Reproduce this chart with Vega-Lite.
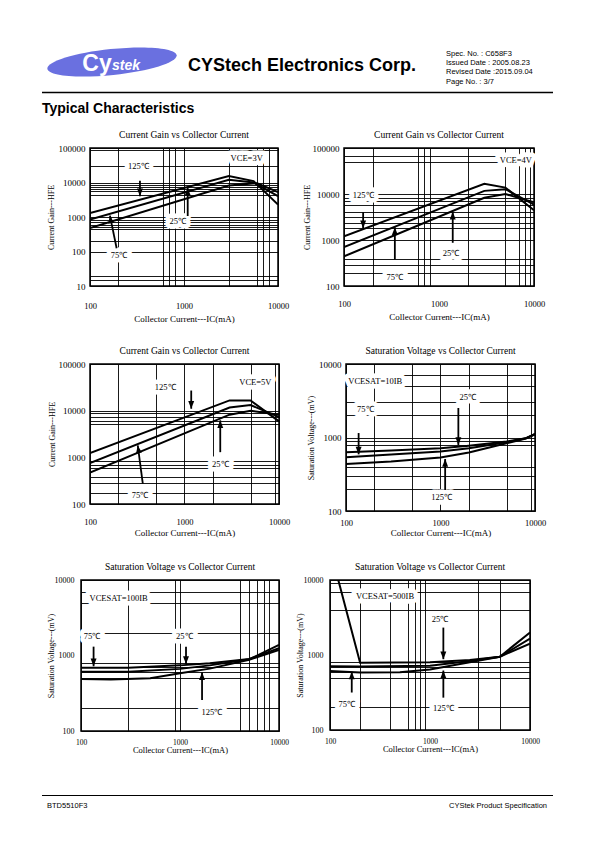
{
"$schema":"https://vega.github.io/schema/vega-lite/v6.json",
"padding":0,
"background":"white",
"spacing":0,
"config":{
 "view":{"stroke":null},
 "font":"Liberation Serif",
 "axis":{"ticks":false,"domain":false,"grid":true,"gridColor":"black","gridWidth":0.9,"gridOpacity":1,"labelColor":"black","titleColor":"black","labelFont":"Liberation Serif","titleFont":"Liberation Serif","titleFontWeight":"normal","labelOverlap":false,"labelFlush":false,"labelBound":false},
 "title":{"font":"Liberation Serif","fontSize":9.5,"fontWeight":"normal","color":"black","offset":5},
 "text":{"font":"Liberation Serif"}
},
"datasets":{
 "c1":[{"c":"125℃","i":100,"v":1300},{"c":"125℃","i":3000,"v":15500},{"c":"125℃","i":5500,"v":11000},{"c":"125℃","i":10000,"v":2300},
  {"c":"75℃","i":100,"v":850},{"c":"75℃","i":3000,"v":12000},{"c":"75℃","i":5500,"v":10000},{"c":"75℃","i":10000,"v":4000},
  {"c":"25℃","i":100,"v":480},{"c":"25℃","i":3000,"v":8200},{"c":"25℃","i":6000,"v":9500},{"c":"25℃","i":10000,"v":5300}],
 "c2":[{"c":"125℃","i":100,"v":1200},{"c":"125℃","i":3000,"v":16700},{"c":"125℃","i":5000,"v":13800},{"c":"125℃","i":10000,"v":4450},
  {"c":"75℃","i":100,"v":700},{"c":"75℃","i":3000,"v":11700},{"c":"75℃","i":5000,"v":12700},{"c":"75℃","i":10000,"v":5900},
  {"c":"25℃","i":100,"v":440},{"c":"25℃","i":3000,"v":8300},{"c":"25℃","i":5000,"v":10000},{"c":"25℃","i":10000,"v":6600}],
 "c3":[{"c":"125℃","i":100,"v":1230},{"c":"125℃","i":3000,"v":16600},{"c":"125℃","i":5000,"v":16600},{"c":"125℃","i":10000,"v":5900},
  {"c":"75℃","i":100,"v":750},{"c":"75℃","i":3000,"v":11700},{"c":"75℃","i":5000,"v":13200},{"c":"75℃","i":10000,"v":7300},
  {"c":"25℃","i":100,"v":470},{"c":"25℃","i":3000,"v":8200},{"c":"25℃","i":5000,"v":10000},{"c":"25℃","i":10000,"v":8200}],
 "c4":[{"c":"25℃","i":100,"v":630},{"c":"25℃","i":300,"v":665},{"c":"25℃","i":1000,"v":715},{"c":"25℃","i":2000,"v":775},{"c":"25℃","i":5000,"v":880},{"c":"25℃","i":8000,"v":980},{"c":"25℃","i":10000,"v":1110},
  {"c":"75℃","i":100,"v":540},{"c":"75℃","i":300,"v":585},{"c":"75℃","i":1000,"v":645},{"c":"75℃","i":2000,"v":715},{"c":"75℃","i":5000,"v":860},{"c":"75℃","i":8000,"v":975},{"c":"75℃","i":10000,"v":1100},
  {"c":"125℃","i":100,"v":435},{"c":"125℃","i":300,"v":470},{"c":"125℃","i":1000,"v":535},{"c":"125℃","i":2000,"v":624},{"c":"125℃","i":5000,"v":835},{"c":"125℃","i":8000,"v":970},{"c":"125℃","i":10000,"v":1120}],
 "c5":[{"c":"25℃","i":100,"v":690},{"c":"25℃","i":300,"v":690},{"c":"25℃","i":1000,"v":740},{"c":"25℃","i":2000,"v":790},{"c":"25℃","i":5000,"v":900},{"c":"25℃","i":10000,"v":1250},
  {"c":"75℃","i":100,"v":610},{"c":"75℃","i":300,"v":610},{"c":"75℃","i":1000,"v":665},{"c":"75℃","i":2000,"v":740},{"c":"75℃","i":5000,"v":890},{"c":"75℃","i":10000,"v":1380},
  {"c":"125℃","i":100,"v":490},{"c":"125℃","i":200,"v":480},{"c":"125℃","i":500,"v":500},{"c":"125℃","i":1000,"v":580},{"c":"125℃","i":2000,"v":670},{"c":"125℃","i":5000,"v":880},{"c":"125℃","i":10000,"v":1180}],
 "c6":[{"c":"25℃","i":121,"v":10000},{"c":"25℃","i":200,"v":790},{"c":"25℃","i":1000,"v":800},{"c":"25℃","i":2500,"v":860},{"c":"25℃","i":5000,"v":950},{"c":"25℃","i":10000,"v":2000},
  {"c":"75℃","i":100,"v":710},{"c":"75℃","i":200,"v":700},{"c":"75℃","i":1000,"v":720},{"c":"75℃","i":2500,"v":830},{"c":"75℃","i":5000,"v":950},{"c":"75℃","i":10000,"v":1650},
  {"c":"125℃","i":100,"v":610},{"c":"125℃","i":200,"v":585},{"c":"125℃","i":500,"v":590},{"c":"125℃","i":1000,"v":640},{"c":"125℃","i":2500,"v":800},{"c":"125℃","i":5000,"v":950},{"c":"125℃","i":10000,"v":1420}],
 "a1":[{"i":340,"v":11200,"i2":340,"v2":4000,"dir":"down"},{"i":1095,"v":1070,"i2":1095,"v2":7000,"dir":"up"},{"i":192,"v":124,"i2":163,"v2":1100,"dir":"upleft"}],
 "t1":[{"i":327,"v":31000,"label":"125℃"},{"i":857,"v":775,"label":"25℃"},{"i":203,"v":80,"label":"75℃"},{"i":4645,"v":53000,"label":"VCE=3V"}],
 "a2":[{"i":159,"v":4030,"i2":159,"v2":1800,"dir":"down"},{"i":343,"v":380,"i2":343,"v2":1900,"dir":"up"},{"i":1395,"v":870,"i2":1395,"v2":4100,"dir":"up"}],
 "t2":[{"i":159,"v":9700,"label":"125℃"},{"i":343,"v":160,"label":"75℃"},{"i":1340,"v":510,"label":"25℃"},{"i":6450,"v":55700,"label":"VCE=4V"}],
 "a3":[{"i":1178,"v":27000,"i2":1178,"v2":11000,"dir":"down"},{"i":2390,"v":1290,"i2":2390,"v2":6200,"dir":"up"},{"i":362,"v":273,"i2":320,"v2":1800,"dir":"upleft"}],
 "t3":[{"i":624,"v":32700,"label":"125℃"},{"i":5620,"v":40500,"label":"VCE=5V"},{"i":2390,"v":705,"label":"25℃"},{"i":339,"v":153,"label":"75℃"}],
 "a4":[{"i":136,"v":1150,"i2":136,"v2":590,"dir":"down"},{"i":1545,"v":2520,"i2":1545,"v2":790,"dir":"down"},{"i":1120,"v":193,"i2":1120,"v2":510,"dir":"up"}],
 "t4":[{"i":204,"v":5920,"label":"VCESAT=10IB"},{"i":160,"v":2460,"label":"75℃"},{"i":1940,"v":3510,"label":"25℃"},{"i":1030,"v":157,"label":"125℃"}],
 "a5":[{"i":134,"v":1310,"i2":134,"v2":720,"dir":"down"},{"i":1150,"v":1310,"i2":1150,"v2":770,"dir":"down"},{"i":1670,"v":257,"i2":1670,"v2":600,"dir":"up"}],
 "t5":[{"i":240,"v":5730,"label":"VCESAT=100IB"},{"i":129,"v":1810,"label":"75℃"},{"i":1105,"v":1810,"label":"25℃"},{"i":2100,"v":180,"label":"125℃"}],
 "a6":[{"i":1360,"v":2320,"i2":1360,"v2":880,"dir":"down"},{"i":165,"v":316,"i2":165,"v2":600,"dir":"up"},{"i":1360,"v":270,"i2":1360,"v2":620,"dir":"up"}],
 "t6":[{"i":355,"v":6120,"label":"VCESAT=500IB"},{"i":1260,"v":2990,"label":"25℃"},{"i":147,"v":220,"label":"75℃"},{"i":1360,"v":195,"label":"125℃"}]
},
"vconcat":[
 {"width":595,"height":128,"data":{"values":[{}]},
  "layer":[
   {"mark":{"type":"point","shape":"M-1,0A1,0.2 0 1,1 1,0A1,0.2 0 1,1 -1,0Z","size":16900,"filled":true,"color":"#6a70e0","opacity":1,"angle":-6},
    "encoding":{"x":{"datum":112,"type":"quantitative","scale":{"domain":[0,595],"nice":false,"zero":false},"axis":null},"y":{"datum":62,"type":"quantitative","scale":{"domain":[0,128],"reverse":true,"nice":false,"zero":false},"axis":null}}},
   {"mark":{"type":"text","text":"Cy","font":"Liberation Sans","fontWeight":"bold","fontSize":23,"color":"white","align":"center","baseline":"alphabetic"},
    "encoding":{"x":{"datum":97,"type":"quantitative","axis":null},"y":{"datum":71,"type":"quantitative","axis":null}}},
   {"mark":{"type":"text","text":"stek","font":"Liberation Sans","fontWeight":"bold","fontStyle":"italic","fontSize":14,"color":"white","align":"center","baseline":"alphabetic"},
    "encoding":{"x":{"datum":126,"type":"quantitative","axis":null},"y":{"datum":70,"type":"quantitative","axis":null}}},
   {"mark":{"type":"text","text":"CYStech Electronics Corp.","font":"Liberation Sans","fontWeight":"bold","fontSize":18,"color":"black","align":"left","baseline":"alphabetic"},
    "encoding":{"x":{"datum":188,"type":"quantitative","axis":null},"y":{"datum":70.5,"type":"quantitative","axis":null}}},
   {"mark":{"type":"text","text":["Spec. No. : C658F3","Issued Date : 2005.08.23","Revised Date :2015.09.04","Page No. : 3/7"],"font":"Liberation Sans","fontSize":7.5,"lineHeight":9.2,"color":"black","align":"left","baseline":"top"},
    "encoding":{"x":{"datum":446,"type":"quantitative","axis":null},"y":{"datum":50,"type":"quantitative","axis":null}}},
   {"mark":{"type":"rule","color":"black","strokeWidth":1.3},
    "encoding":{"x":{"datum":42,"type":"quantitative","axis":null},"x2":{"datum":553},"y":{"datum":92.5,"type":"quantitative","axis":null}}},
   {"mark":{"type":"text","text":"Typical Characteristics","font":"Liberation Sans","fontWeight":"bold","fontSize":14,"color":"black","align":"left","baseline":"middle"},
    "encoding":{"x":{"datum":42,"type":"quantitative","axis":null},"y":{"datum":108.5,"type":"quantitative","axis":null}}}
  ]},
 {"hconcat":[
   {"width":24,"height":138,"data":{"values":[]},"mark":"point","encoding":{}},
   {"width":188,"height":138,"view":{"stroke":"black","strokeWidth":1.5},
    "title":{"text":"Current Gain vs Collector Current"},
    "layer":[
     {"data":{"name":"t1"},"mark":{"type":"text","color":"white","stroke":"white","strokeWidth":9,"strokeJoin":"round","fontSize":8.5},
      "encoding":{"x":{"field":"i","type":"quantitative","scale":{"type":"log","domain":[100,10000],"nice":false},
        "axis":{"values":[100,200,600,700,800,1000,3000,6000,7000,8000,10000],"labelExpr":"indexof([100,1000,10000], datum.value) >= 0 ? format(datum.value, 'd') : ''","labelFontSize":8.5,"labelPadding":15,"title":"Collector Current---IC(mA)","titleFontSize":9,"titlePadding":5}},
       "y":{"field":"v","type":"quantitative","scale":{"type":"log","domain":[10,100000],"nice":false},
        "axis":{"values":[10,15,20,100,200,450,500,600,700,800,1000,4300,5700,6500,7500,8500,10000,30000,85000,100000],"labelExpr":"indexof([10,100,1000,10000,100000], datum.value) >= 0 ? format(datum.value, 'd') : ''","labelFontSize":9,"labelPadding":5,"title":"Current Gain---HFE","titleFontSize":8,"titlePadding":3}},
       "text":{"field":"label"}}},
     {"data":{"name":"c1"},"mark":{"type":"line","color":"black","strokeWidth":2,"clip":true},
      "encoding":{"x":{"field":"i","type":"quantitative"},"y":{"field":"v","type":"quantitative"},"detail":{"field":"c"}}},
     {"data":{"name":"a1"},"mark":{"type":"rule","color":"black","strokeWidth":1.8},
      "encoding":{"x":{"field":"i","type":"quantitative"},"y":{"field":"v","type":"quantitative"},"x2":{"field":"i2"},"y2":{"field":"v2"}}},
     {"data":{"name":"a1"},"mark":{"type":"point","filled":true,"color":"black","size":49,"opacity":1,"strokeWidth":0},
      "encoding":{"x":{"field":"i2","type":"quantitative"},"y":{"field":"v2","type":"quantitative"},"shape":{"field":"dir","type":"nominal","scale":{"domain":["down","up","upleft"],"range":["M0,0L-0.85,-2.2L0.85,-2.2Z","M0,0L-0.85,2.2L0.85,2.2Z","M0,0L-0.495,2.306L1.184,2.04Z"]},"legend":null}}},
     {"data":{"name":"t1"},"mark":{"type":"text","color":"black","fontSize":8.5},
      "encoding":{"x":{"field":"i","type":"quantitative"},"y":{"field":"v","type":"quantitative"},"text":{"field":"label"}}}
    ]},
   {"width":190,"height":138,"view":{"stroke":"black","strokeWidth":1.5},
    "title":{"text":"Current Gain vs Collector Current"},
    "layer":[
     {"data":{"name":"t2"},"mark":{"type":"text","color":"white","stroke":"white","strokeWidth":9,"strokeJoin":"round","fontSize":8.5},
      "encoding":{"x":{"field":"i","type":"quantitative","scale":{"type":"log","domain":[100,10000],"nice":false},
        "axis":{"values":[100,200,600,700,800,1000,2000,5000,7000,8000,9000,10000],"labelExpr":"indexof([100,1000,10000], datum.value) >= 0 ? format(datum.value, 'd') : ''","gridOpacity":{"condition":{"test":"datum.value == 1000","value":0},"value":1},"labelFontSize":8.5,"labelPadding":13,"title":"Collector Current---IC(mA)","titleFontSize":9,"titlePadding":5}},
       "y":{"field":"v","type":"quantitative","scale":{"type":"log","domain":[100,100000],"nice":false},
        "axis":{"values":[100,195,280,390,1000,1800,2300,3100,4000,5700,7200,8200,10000,50000,67000,100000],"labelExpr":"indexof([100,1000,10000,100000], datum.value) >= 0 ? format(datum.value, 'd') : ''","labelFontSize":9,"labelPadding":5,"title":"Current Gain---HFE","titleFontSize":8,"titlePadding":1}},
       "text":{"field":"label"}}},
     {"data":{"name":"c2"},"mark":{"type":"line","color":"black","strokeWidth":2,"clip":true},
      "encoding":{"x":{"field":"i","type":"quantitative"},"y":{"field":"v","type":"quantitative"},"detail":{"field":"c"}}},
     {"data":{"name":"a2"},"mark":{"type":"rule","color":"black","strokeWidth":1.8},
      "encoding":{"x":{"field":"i","type":"quantitative"},"y":{"field":"v","type":"quantitative"},"x2":{"field":"i2"},"y2":{"field":"v2"}}},
     {"data":{"name":"a2"},"mark":{"type":"point","filled":true,"color":"black","size":49,"opacity":1,"strokeWidth":0},
      "encoding":{"x":{"field":"i2","type":"quantitative"},"y":{"field":"v2","type":"quantitative"},"shape":{"field":"dir","type":"nominal","scale":{"domain":["down","up","upleft"],"range":["M0,0L-0.85,-2.2L0.85,-2.2Z","M0,0L-0.85,2.2L0.85,2.2Z","M0,0L-0.495,2.306L1.184,2.04Z"]},"legend":null}}},
     {"data":{"name":"t2"},"mark":{"type":"text","color":"black","fontSize":8.5},
      "encoding":{"x":{"field":"i","type":"quantitative"},"y":{"field":"v","type":"quantitative"},"text":{"field":"label"}}}
    ]}
  ],"spacing":66,"bounds":"flush"},
 {"width":10,"height":19,"data":{"values":[]},"mark":"point","encoding":{}},
 {"hconcat":[
   {"width":23,"height":147,"data":{"values":[]},"mark":"point","encoding":{}},
   {"width":189,"height":140,"view":{"stroke":"black","strokeWidth":1.5},
    "title":{"text":"Current Gain vs Collector Current"},
    "layer":[
     {"data":{"name":"t3"},"mark":{"type":"text","color":"white","stroke":"white","strokeWidth":9,"strokeJoin":"round","fontSize":8.5},
      "encoding":{"x":{"field":"i","type":"quantitative","scale":{"type":"log","domain":[100,10000],"nice":false},
        "axis":{"values":[100,200,500,1000,2000,5000,9000,10000],"labelExpr":"indexof([100,1000,10000], datum.value) >= 0 ? format(datum.value, 'd') : ''","labelFontSize":8.5,"labelPadding":13,"title":"Collector Current---IC(mA)","titleFontSize":9,"titlePadding":3}},
       "y":{"field":"v","type":"quantitative","scale":{"type":"log","domain":[100,100000],"nice":false},
        "axis":{"values":[100,170,280,380,590,700,830,1000,5100,6000,7300,8800,10000,100000],"labelExpr":"indexof([100,1000,10000,100000], datum.value) >= 0 ? format(datum.value, 'd') : ''","gridOpacity":{"condition":{"test":"datum.value == 1000","value":0},"value":1},"labelFontSize":9,"labelPadding":5,"title":"Current Gain---HFE","titleFontSize":8,"titlePadding":2}},
       "text":{"field":"label"}}},
     {"data":{"name":"c3"},"mark":{"type":"line","color":"black","strokeWidth":2,"clip":true},
      "encoding":{"x":{"field":"i","type":"quantitative"},"y":{"field":"v","type":"quantitative"},"detail":{"field":"c"}}},
     {"data":{"name":"a3"},"mark":{"type":"rule","color":"black","strokeWidth":1.8},
      "encoding":{"x":{"field":"i","type":"quantitative"},"y":{"field":"v","type":"quantitative"},"x2":{"field":"i2"},"y2":{"field":"v2"}}},
     {"data":{"name":"a3"},"mark":{"type":"point","filled":true,"color":"black","size":49,"opacity":1,"strokeWidth":0},
      "encoding":{"x":{"field":"i2","type":"quantitative"},"y":{"field":"v2","type":"quantitative"},"shape":{"field":"dir","type":"nominal","scale":{"domain":["down","up","upleft"],"range":["M0,0L-0.85,-2.2L0.85,-2.2Z","M0,0L-0.85,2.2L0.85,2.2Z","M0,0L-0.495,2.306L1.184,2.04Z"]},"legend":null}}},
     {"data":{"name":"t3"},"mark":{"type":"text","color":"black","fontSize":8.5},
      "encoding":{"x":{"field":"i","type":"quantitative"},"y":{"field":"v","type":"quantitative"},"text":{"field":"label"}}}
    ]},
   {"width":189,"height":147,"view":{"stroke":"black","strokeWidth":1.5},
    "title":{"text":"Saturation Voltage vs Collector Current"},
    "layer":[
     {"data":{"name":"t4"},"mark":{"type":"text","color":"white","stroke":"white","strokeWidth":9,"strokeJoin":"round","fontSize":8.5},
      "encoding":{"x":{"field":"i","type":"quantitative","scale":{"type":"log","domain":[100,10000],"nice":false},
        "axis":{"values":[100,200,500,1000,2000,5000,9000,10000],"labelExpr":"indexof([100,1000,10000], datum.value) >= 0 ? format(datum.value, 'd') : ''","labelFontSize":8.5,"labelPadding":7,"title":"Collector Current---IC(mA)","titleFontSize":9,"titlePadding":2}},
       "y":{"field":"v","type":"quantitative","scale":{"type":"log","domain":[100,10000],"nice":false},
        "axis":{"values":[100,200,300,400,800,900,1000,2000,3000,5000,7000,10000],"labelExpr":"indexof([100,1000,10000], datum.value) >= 0 ? format(datum.value, 'd') : ''","labelFontSize":9,"labelPadding":5,"title":"Saturation Voltage---(mV)","titleFontSize":8,"titlePadding":3}},
       "text":{"field":"label"}}},
     {"data":{"name":"c4"},"mark":{"type":"line","color":"black","strokeWidth":2,"clip":true},
      "encoding":{"x":{"field":"i","type":"quantitative"},"y":{"field":"v","type":"quantitative"},"detail":{"field":"c"}}},
     {"data":{"name":"a4"},"mark":{"type":"rule","color":"black","strokeWidth":1.8},
      "encoding":{"x":{"field":"i","type":"quantitative"},"y":{"field":"v","type":"quantitative"},"x2":{"field":"i2"},"y2":{"field":"v2"}}},
     {"data":{"name":"a4"},"mark":{"type":"point","filled":true,"color":"black","size":49,"opacity":1,"strokeWidth":0},
      "encoding":{"x":{"field":"i2","type":"quantitative"},"y":{"field":"v2","type":"quantitative"},"shape":{"field":"dir","type":"nominal","scale":{"domain":["down","up","upleft"],"range":["M0,0L-0.85,-2.2L0.85,-2.2Z","M0,0L-0.85,2.2L0.85,2.2Z","M0,0L-0.495,2.306L1.184,2.04Z"]},"legend":null}}},
     {"data":{"name":"t4"},"mark":{"type":"text","color":"black","fontSize":8.5},
      "encoding":{"x":{"field":"i","type":"quantitative"},"y":{"field":"v","type":"quantitative"},"text":{"field":"label"}}}
    ]}
  ],"spacing":67,"bounds":"flush"},
 {"width":10,"height":21,"data":{"values":[]},"mark":"point","encoding":{}},
 {"hconcat":[
   {"width":30,"height":151,"data":{"values":[]},"mark":"point","encoding":{}},
   {"width":198,"height":151,"view":{"stroke":"black","strokeWidth":1.5},
    "title":{"text":"Saturation Voltage vs Collector Current"},
    "layer":[
     {"data":{"name":"t5"},"mark":{"type":"text","color":"white","stroke":"white","strokeWidth":9,"strokeJoin":"round","fontSize":8.5},
      "encoding":{"x":{"field":"i","type":"quantitative","scale":{"type":"log","domain":[100,10000],"nice":false},
        "axis":{"values":[100,300,900,1000,4000,5000,6000,7000,8000,10000],"labelExpr":"indexof([100,1000,10000], datum.value) >= 0 ? format(datum.value, 'd') : ''","labelFontSize":7.5,"labelPadding":7,"title":"Collector Current---IC(mA)","titleFontSize":8.5,"titlePadding":0}},
       "y":{"field":"v","type":"quantitative","scale":{"type":"log","domain":[100,10000],"nice":false},
        "axis":{"values":[100,200,500,600,700,800,1000,2000,5000,7000,10000],"labelExpr":"indexof([100,1000,10000], datum.value) >= 0 ? format(datum.value, 'd') : ''","gridOpacity":{"condition":{"test":"datum.value == 1000","value":0},"value":1},"labelFontSize":8,"labelPadding":7,"title":"Saturation Voltage---(mV)","titleFontSize":8,"titlePadding":-1}},
       "text":{"field":"label"}}},
     {"data":{"name":"c5"},"mark":{"type":"line","color":"black","strokeWidth":2,"clip":true},
      "encoding":{"x":{"field":"i","type":"quantitative"},"y":{"field":"v","type":"quantitative"},"detail":{"field":"c"}}},
     {"data":{"name":"a5"},"mark":{"type":"rule","color":"black","strokeWidth":1.8},
      "encoding":{"x":{"field":"i","type":"quantitative"},"y":{"field":"v","type":"quantitative"},"x2":{"field":"i2"},"y2":{"field":"v2"}}},
     {"data":{"name":"a5"},"mark":{"type":"point","filled":true,"color":"black","size":49,"opacity":1,"strokeWidth":0},
      "encoding":{"x":{"field":"i2","type":"quantitative"},"y":{"field":"v2","type":"quantitative"},"shape":{"field":"dir","type":"nominal","scale":{"domain":["down","up","upleft"],"range":["M0,0L-0.85,-2.2L0.85,-2.2Z","M0,0L-0.85,2.2L0.85,2.2Z","M0,0L-0.495,2.306L1.184,2.04Z"]},"legend":null}}},
     {"data":{"name":"t5"},"mark":{"type":"text","color":"black","fontSize":8.5},
      "encoding":{"x":{"field":"i","type":"quantitative"},"y":{"field":"v","type":"quantitative"},"text":{"field":"label"}}}
    ]},
   {"width":200,"height":150,"view":{"stroke":"black","strokeWidth":1.5},
    "title":{"text":"Saturation Voltage vs Collector Current"},
    "layer":[
     {"data":{"name":"t6"},"mark":{"type":"text","color":"white","stroke":"white","strokeWidth":9,"strokeJoin":"round","fontSize":8.5},
      "encoding":{"x":{"field":"i","type":"quantitative","scale":{"type":"log","domain":[100,10000],"nice":false},
        "axis":{"values":[100,200,400,600,700,800,900,1000,3000,5000,10000],"labelExpr":"indexof([100,1000,10000], datum.value) >= 0 ? format(datum.value, 'd') : ''","gridOpacity":{"condition":{"test":"datum.value == 1000","value":0},"value":1},"labelFontSize":7.5,"labelPadding":7,"title":"Collector Current---IC(mA)","titleFontSize":8.5,"titlePadding":0}},
       "y":{"field":"v","type":"quantitative","scale":{"type":"log","domain":[100,10000],"nice":false},
        "axis":{"values":[100,200,500,600,700,800,1000,4000,7000,9000,10000],"labelExpr":"indexof([100,1000,10000], datum.value) >= 0 ? format(datum.value, 'd') : ''","gridOpacity":{"condition":{"test":"datum.value == 1000","value":0},"value":1},"labelFontSize":8,"labelPadding":7,"title":"Saturation Voltage---(mV)","titleFontSize":8,"titlePadding":-1}},
       "text":{"field":"label"}}},
     {"data":{"name":"c6"},"mark":{"type":"line","color":"black","strokeWidth":2,"clip":true},
      "encoding":{"x":{"field":"i","type":"quantitative"},"y":{"field":"v","type":"quantitative"},"detail":{"field":"c"}}},
     {"data":{"name":"a6"},"mark":{"type":"rule","color":"black","strokeWidth":1.8},
      "encoding":{"x":{"field":"i","type":"quantitative"},"y":{"field":"v","type":"quantitative"},"x2":{"field":"i2"},"y2":{"field":"v2"}}},
     {"data":{"name":"a6"},"mark":{"type":"point","filled":true,"color":"black","size":49,"opacity":1,"strokeWidth":0},
      "encoding":{"x":{"field":"i2","type":"quantitative"},"y":{"field":"v2","type":"quantitative"},"shape":{"field":"dir","type":"nominal","scale":{"domain":["down","up","upleft"],"range":["M0,0L-0.85,-2.2L0.85,-2.2Z","M0,0L-0.85,2.2L0.85,2.2Z","M0,0L-0.495,2.306L1.184,2.04Z"]},"legend":null}}},
     {"data":{"name":"t6"},"mark":{"type":"text","color":"black","fontSize":8.5},
      "encoding":{"x":{"field":"i","type":"quantitative"},"y":{"field":"v","type":"quantitative"},"text":{"field":"label"}}}
    ]}
  ],"spacing":51,"bounds":"flush"},
 {"width":595,"height":84,"data":{"values":[{}]},
  "layer":[
   {"mark":{"type":"rule","color":"black","strokeWidth":1.2},
    "encoding":{"x":{"datum":42,"type":"quantitative","scale":{"domain":[0,595],"nice":false,"zero":false},"axis":null},"x2":{"datum":553},"y":{"datum":798,"type":"quantitative","scale":{"domain":[757.5,841.5],"reverse":true,"nice":false,"zero":false},"axis":null}}},
   {"mark":{"type":"text","text":"BTD5510F3","font":"Liberation Sans","fontSize":7.5,"color":"black","align":"left","baseline":"middle"},
    "encoding":{"x":{"datum":47,"type":"quantitative","axis":null},"y":{"datum":808.5,"type":"quantitative","axis":null}}},
   {"mark":{"type":"text","text":"CYStek Product Specification","font":"Liberation Sans","fontSize":7.5,"color":"black","align":"right","baseline":"middle"},
    "encoding":{"x":{"datum":547,"type":"quantitative","axis":null},"y":{"datum":808.5,"type":"quantitative","axis":null}}}
  ]}
]
}
